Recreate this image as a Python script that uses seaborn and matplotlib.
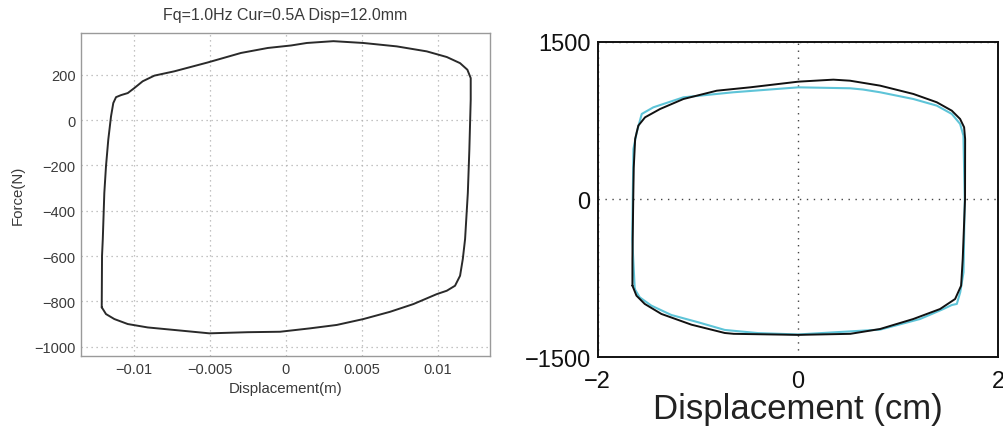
import numpy as np
import pandas as pd
import matplotlib
matplotlib.use("Agg")
import matplotlib.pyplot as plt
import seaborn as sns

# Measured damper loop (m, N), traced clockwise starting at the lower-left corner
meas_disp_m = [-0.01209, -0.01207, -0.01202, -0.01192, -0.01181, -0.01166, -0.01148,
               -0.01133, -0.01115, -0.01082, -0.01038, -0.00995, -0.0094, -0.00863,
               -0.00732, -0.00513, -0.00294, -0.00118, 0.00035, 0.00138, 0.00313,
               0.0051, 0.00729, 0.00926, 0.01058, 0.01145, 0.01193, 0.01215, 0.01215,
               0.01206, 0.01196, 0.01178, 0.01163, 0.01145, 0.01112, 0.01058, 0.00992,
               0.00838, 0.00685, 0.0051, 0.00335, 0.0016, -0.00037, -0.0025, -0.00502,
               -0.00688, -0.00907, -0.01038, -0.01126, -0.01181]
meas_force_n = [-826, -599, -525, -322, -204, -87, 16,
                75, 101, 110, 119, 141, 171, 196,
                215, 254, 296, 318, 329, 340, 348,
                340, 325, 303, 278, 251, 222, 185, 90,
                -131, -322, -525, -613, -687, -731, -753, -768,
                -812, -846, -878, -904, -919, -934, -936, -941,
                -929, -915, -900, -878, -856]

# Right panel: experiment (black) and model (cyan), cm and N
exp_disp_cm = [-1.653, -1.653, -1.645, -1.640, -1.626, -1.594, -1.527, -1.377, -1.144,
               -0.811, -0.478, 0.004, 0.353, 0.520, 0.820, 1.152, 1.386, 1.536, 1.619,
               1.659, 1.669, 1.668, 1.645, 1.629, 1.569, 1.419, 1.152, 0.820, 0.523,
               0.0, -0.642, -0.731, -1.064, -1.364, -1.530, -1.613]
exp_force_n = [-819, -566, 0, 300, 575, 702, 781, 860, 955,
               1034, 1066, 1120, 1139, 1129, 1082, 1003, 924, 844, 765,
               686, 575, 0, -566, -819, -946, -1041, -1136, -1231, -1277,
               -1287, -1277, -1269, -1190, -1088, -993, -914]

sim_disp_cm = [-1.630, -1.655, -1.650, -1.643, -1.610, -1.560, -1.444, -1.144, -0.645,
               0.004, 0.520, 0.650, 0.820, 1.152, 1.386, 1.536, 1.619, 1.652, 1.665,
               1.653, 1.620, 1.586, 1.536, 1.452, 1.219, 0.820, 0.0, -0.400, -0.731,
               -0.997, -1.264, -1.464, -1.580]
sim_force_n = [-851, -375, 0, 480, 639, 813, 876, 971, 1019,
               1066, 1057, 1045, 1019, 955, 892, 813, 718, 607, 0,
               -692, -882, -993, -1003, -1041, -1136, -1237, -1283, -1270, -1240,
               -1167, -1098, -1009, -930]

left_xticks = [-0.01, -0.005, 0, 0.005, 0.01]
left_xticklabels = ["\u22120.01", "\u22120.005", "0", "0.005", "0.01"]
left_yticks = [-1000, -800, -600, -400, -200, 0, 200]
left_yticklabels = ["\u22121000", "\u2212800", "\u2212600", "\u2212400", "\u2212200", "0", "200"]
right_xticks = [-2, 0, 2]
right_xticklabels = ["\u22122", "0", "2"]
right_yticks = [-1500, 0, 1500]
right_yticklabels = ["\u22121500", "0", "1500"]


def loop_frame(xs, ys):
    """Close a traced loop so the line returns to its starting point."""
    xs = list(xs) + [xs[0]]
    ys = list(ys) + [ys[0]]
    return pd.DataFrame({"x": xs, "y": ys, "order": np.arange(len(xs))})


sns.set_style("white")
plt.rcParams["font.family"] = ["Liberation Sans", "DejaVu Sans"]

fig = plt.figure(figsize=(10.04, 4.31), dpi=100)
ax1 = fig.add_axes([0.0807, 0.1717, 0.4074, 0.7494])
ax2 = fig.add_axes([0.5953, 0.1687, 0.3990, 0.7323])

# ---- left: measured force-displacement loop
sns.lineplot(data=loop_frame(meas_disp_m, meas_force_n), x="x", y="y", sort=False,
             estimator=None, color="#2a2a2a", lw=1.4, ax=ax1)
ax1.set_xlim(-0.01345, 0.01342)
ax1.set_ylim(-1041, 384)
ax1.set_xticks(left_xticks)
ax1.set_xticklabels(left_xticklabels)
ax1.set_yticks(left_yticks)
ax1.set_yticklabels(left_yticklabels)
ax1.grid(True, linestyle=(0, (1, 3)), color="#b0b0b0", lw=0.9)
ax1.tick_params(direction="in", length=3, color="#999999", labelsize=10.5,
                labelcolor="#3a3a3a", pad=4)
for s in ax1.spines.values():
    s.set_color("#9a9a9a")
    s.set_linewidth(1.0)
ax1.set_xlabel("Displacement(m)", fontsize=10.8, color="#3a3a3a", labelpad=4)
ax1.set_ylabel("Force(N)", fontsize=10.8, color="#3a3a3a", labelpad=7)
ax1.set_title("Fq=1.0Hz Cur=0.5A Disp=12.0mm", fontsize=11.5, color="#3a3a3a", pad=10)

# ---- right: experiment vs model
sns.lineplot(data=loop_frame(sim_disp_cm, sim_force_n), x="x", y="y", sort=False,
             estimator=None, color="#5ec4d8", lw=1.5, ax=ax2)
sns.lineplot(data=loop_frame(exp_disp_cm, exp_force_n), x="x", y="y", sort=False,
             estimator=None, color="#111111", lw=1.4, ax=ax2)
ax2.set_xlim(-2, 2)
ax2.set_ylim(-1500, 1500)
ax2.set_xticks(right_xticks)
ax2.set_xticklabels(right_xticklabels)
ax2.set_yticks(right_yticks)
ax2.set_yticklabels(right_yticklabels)
ax2.grid(True, linestyle=(0, (1, 4)), color="#444444", lw=1.0)
ax2.tick_params(axis="x", length=0, labelsize=17, labelcolor="#111111", pad=9)
ax2.tick_params(axis="y", length=0, labelsize=17, labelcolor="#111111", pad=5)
for s in ax2.spines.values():
    s.set_color("#111111")
    s.set_linewidth(1.4)
ax2.set_xlabel("Displacement (cm)", fontsize=25, color="#222222", labelpad=0)
ax2.set_ylabel("")

fig.savefig("out.png", dpi=100)
